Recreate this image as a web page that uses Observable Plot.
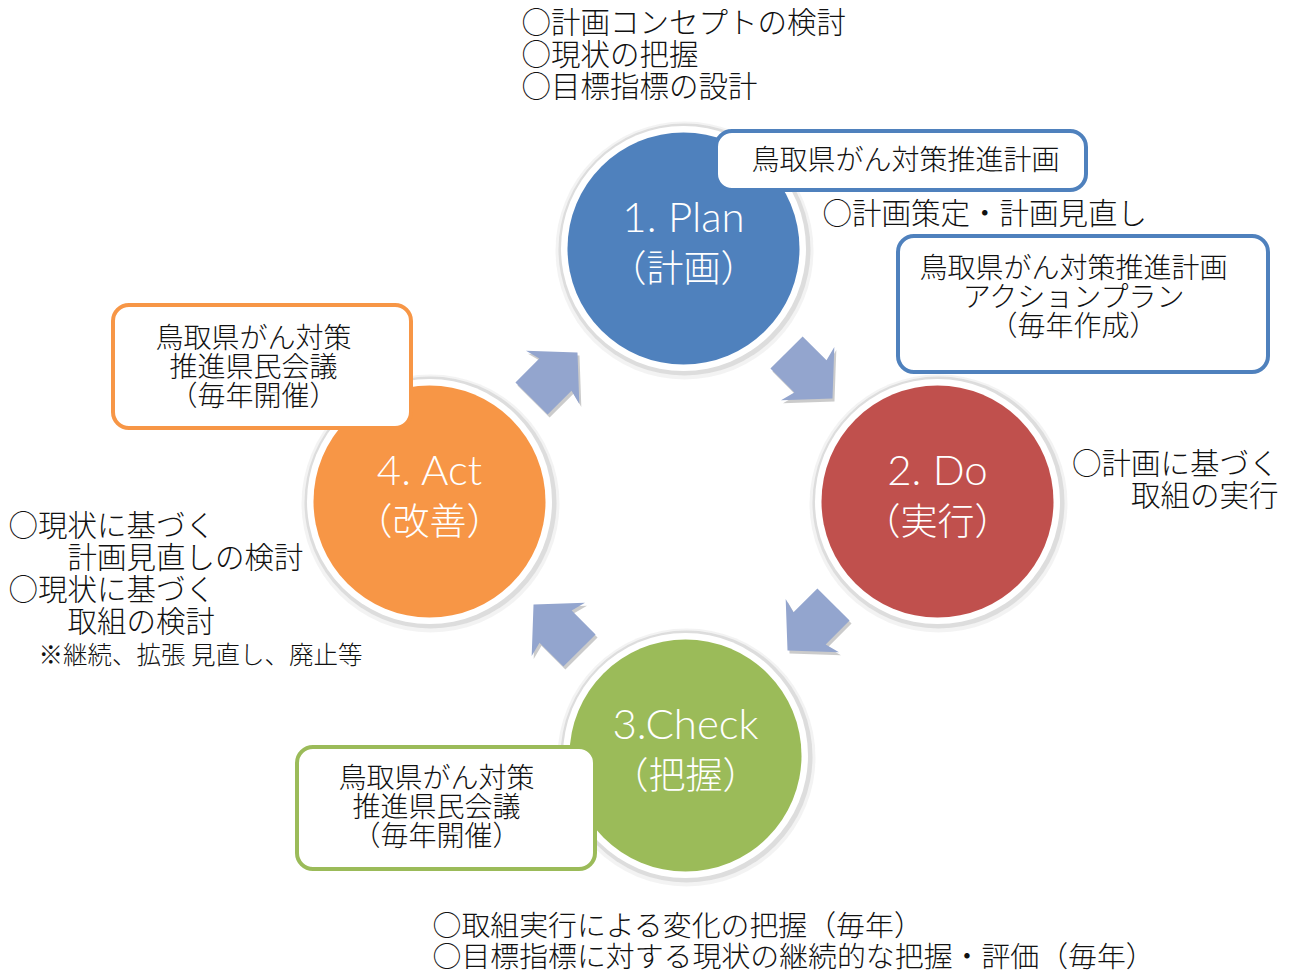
<!DOCTYPE html>
<html><head><meta charset="utf-8">
<script src="https://cdn.jsdelivr.net/npm/d3@7"></script>
<script src="https://cdn.jsdelivr.net/npm/@observablehq/plot@0.6"></script>
<style>body{margin:0;background:#fff}</style>
</head><body><div id="chart"></div>
<script>
// ---- content ----
const stages = ["1. Plan", "2. Do", "3.Check", "4. Act"];
const stagesJa = ["（計画）", "（実行）", "（把握）", "（改善）"];
const stageColors = ["#4f81bd", "#c0504d", "#9bbb59", "#f79646"];

const planNotes = ["○計画コンセプトの検討", "○現状の把握", "○目標指標の設計"];
const planNote2 = ["○計画策定・計画見直し"];
const doNotes = ["○計画に基づく", "取組の実行"];
const actNotes = ["○現状に基づく", "　　計画見直しの検討", "○現状に基づく", "　　取組の検討"];
const actFootnote = ["※継続、拡張 見直し、廃止等"];
const checkNotes = ["○取組実行による変化の把握（毎年）", "○目標指標に対する現状の継続的な把握・評価（毎年）"];

const boxPlan = ["鳥取県がん対策推進計画"];
const boxAction = ["鳥取県がん対策推進計画", "アクションプラン", "（毎年作成）"];
const boxAct = ["鳥取県がん対策", "推進県民会議", "（毎年開催）"];
const boxCheck = ["鳥取県がん対策", "推進県民会議", "（毎年開催）"];

// ---- layout ----
const W = 1292, H = 974, R = 116;
const stageCenters = [[683, 248], [937, 501], [685, 755], [429, 501]];
const arrowLayout = [[809, 375, 45], [810, 627, 135], [556, 627, 225], [554, 375, -45]];
const boxLayout = [
  {lines: boxPlan, x1: 716, x2: 1086, y1: 131, y2: 190, cx: 905, y0: 160, color: "#4f81bd"},
  {lines: boxAction, x1: 898, x2: 1268, y1: 236, y2: 372, cx: 1073, y0: 268, color: "#4f81bd"},
  {lines: boxAct, x1: 113, x2: 411, y1: 305, y2: 428, cx: 253, y0: 338, color: "#f79646"},
  {lines: boxCheck, x1: 297, x2: 595, y1: 747, y2: 869, cx: 436, y0: 778, color: "#9bbb59"}
];
const BOX_LH = 29, BOX_FS = 28;

const circles = stages.map((s, i) => ({label: s, ja: stagesJa[i], color: stageColors[i], x: stageCenters[i][0], y: stageCenters[i][1]}));
const arrows = arrowLayout.map(([x, y, a]) => ({x, y, a}));
const boxes = boxLayout;
const boxTexts = boxLayout.map(b => ({text: b.lines.join("\n"), x: b.cx, y: b.y0 + (b.lines.length - 1) * BOX_LH / 2}));

const NOTE_LH = 32.2;
const block = (lines, x, yFirst, lh = NOTE_LH) => ({text: lines.join("\n"), x, y: yFirst + (lines.length - 1) * lh / 2});
const notesStart = [
  block(planNotes, 521, 22),
  block(planNote2, 822, 213),
  block(actNotes, 8, 525)
];
const notesEnd = [block(doNotes, 1278, 463)];
const notesBottom = [block(checkNotes, 432, 926, 31)];
const foot = actFootnote.map(t => ({text: t, x: 38, y: 656}));

const arrowSymbol = {
  draw(ctx, size) {
    const L = Math.sqrt(size / Math.PI) * 2, h = L / 2;
    const s = 0.35 * L, w = 0.58 * L;
    ctx.moveTo(-h, -s);
    ctx.lineTo(0.02 * L, -s);
    ctx.lineTo(-0.04 * L, -w);
    ctx.lineTo(h, 0);
    ctx.lineTo(-0.04 * L, w);
    ctx.lineTo(0.02 * L, s);
    ctx.lineTo(-h, s);
    ctx.closePath();
  }
};

const jp = "'Noto Sans CJK JP', sans-serif";
const thin = "Lato, 'Noto Sans CJK JP', sans-serif";
const NOTE_FS = 29.5;
const noteStyle = {fill: "#111", fontSize: NOTE_FS, lineHeight: NOTE_LH / NOTE_FS, fontFamily: jp, fontWeight: 300};

const chart = Plot.plot({
  width: W, height: H, margin: 0,
  x: {domain: [0, W], range: [0, W], axis: null},
  y: {domain: [0, H], range: [0, H], axis: null},
  color: {type: "identity"},
  style: {background: "#fff"},
  marks: [
    // circle shadows and white rings
    Plot.dot(circles, {x: "x", y: "y", r: R + 13, fill: "#9a9a9a", fillOpacity: 0.12, dx: 1, dy: 2}),
    Plot.dot(circles, {x: "x", y: "y", r: R + 10, fill: "#9a9a9a", fillOpacity: 0.25, dx: 1, dy: 1}),
    Plot.dot(circles, {x: "x", y: "y", r: R + 6.5, fill: "#ffffff"}),
    Plot.dot(circles, {x: "x", y: "y", r: R, fill: "color"}),
    // arrows
    Plot.dot(arrows, {x: "x", y: "y", r: 32.5, rotate: "a", symbol: arrowSymbol, fill: "#a8a8a8", fillOpacity: 0.6, dx: 2, dy: 3}),
    Plot.dot(arrows, {x: "x", y: "y", r: 32.5, rotate: "a", symbol: arrowSymbol, fill: "#93a5ce"}),
    // stage labels
    Plot.text(circles, {x: "x", y: d => d.y - 30, text: "label", fill: "#ffffff", fontSize: 42, fontFamily: thin, fontWeight: 300}),
    Plot.text(circles, {x: "x", y: d => d.y + 22, text: "ja", fill: "#ffffff", fontSize: 37, fontFamily: thin, fontWeight: 300}),
    // boxes
    Plot.rect(boxes, {x1: "x1", x2: "x2", y1: "y1", y2: "y2", fill: "#ffffff", stroke: "color", strokeWidth: 4, rx: 16}),
    Plot.text(boxTexts, {x: "x", y: "y", text: "text", fill: "#111", fontSize: BOX_FS, lineHeight: BOX_LH / BOX_FS, fontFamily: jp, fontWeight: 300}),
    // notes
    Plot.text(notesStart, {x: "x", y: "y", text: "text", textAnchor: "start", ...noteStyle}),
    Plot.text(notesEnd, {x: "x", y: "y", text: "text", textAnchor: "end", ...noteStyle}),
    Plot.text(notesBottom, {x: "x", y: "y", text: "text", textAnchor: "start", ...noteStyle, fontSize: 28.9, lineHeight: 31 / 28.9}),
    Plot.text(foot, {x: "x", y: "y", text: "text", textAnchor: "start", fill: "#111", fontSize: 24.5, fontFamily: jp, fontWeight: 300})
  ]
});
document.getElementById("chart").appendChild(chart);
</script>
</body></html>
